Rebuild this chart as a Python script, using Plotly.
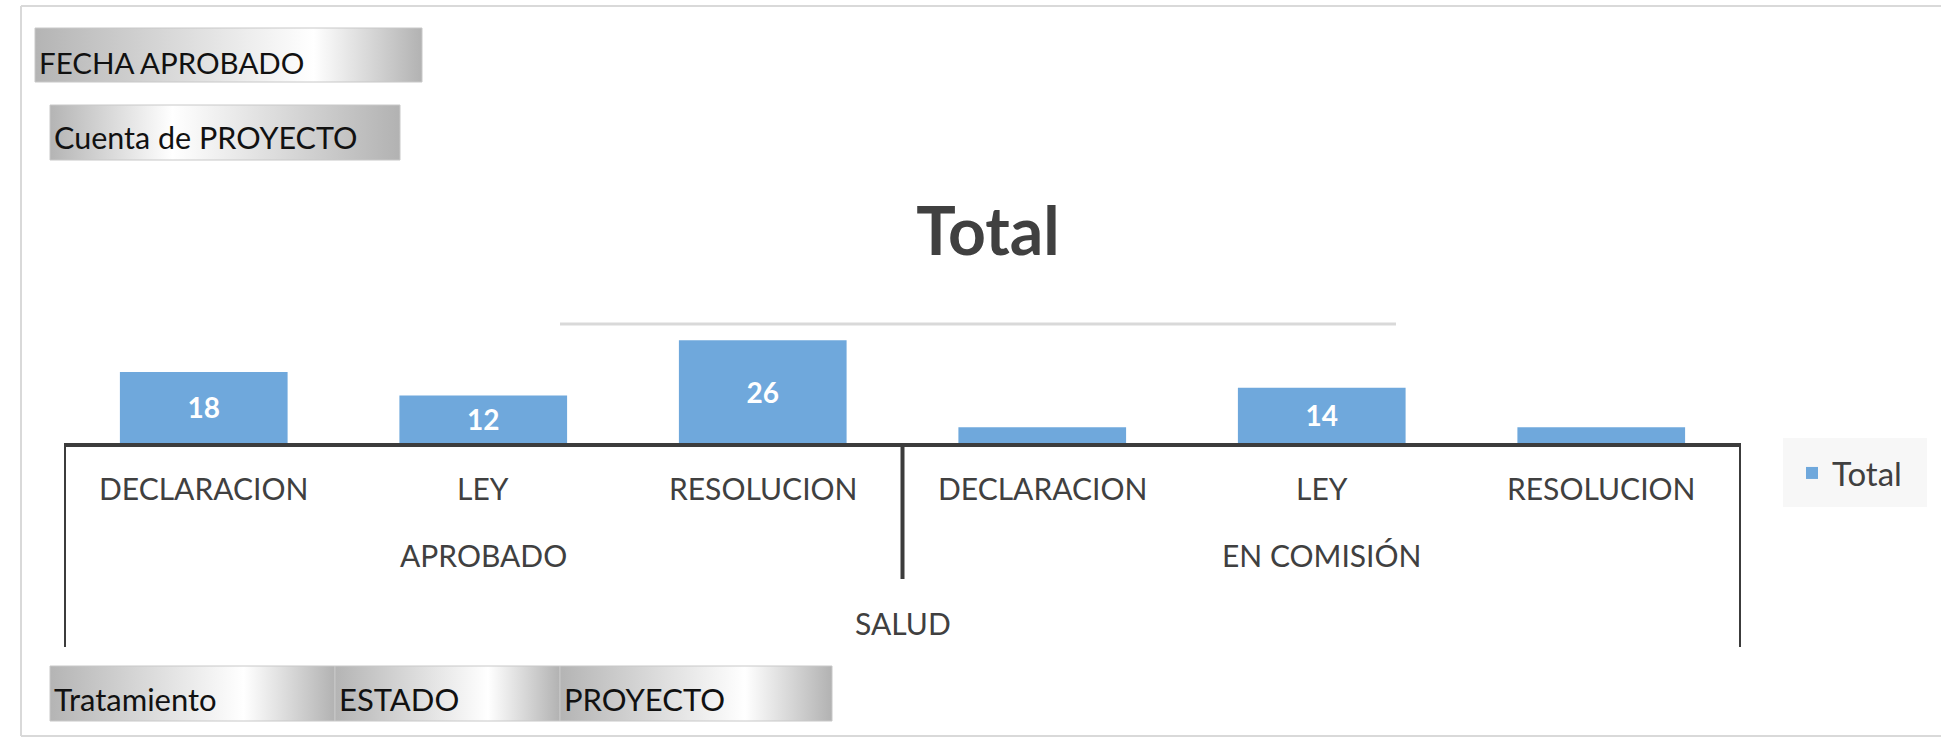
import plotly.graph_objects as go

# ---------------- data ----------------
tipos = ["DECLARACION", "LEY", "RESOLUCION", "DECLARACION", "LEY", "RESOLUCION"]
estados = ["APROBADO", "APROBADO", "APROBADO", "EN COMISIÓN", "EN COMISIÓN", "EN COMISIÓN"]
tratamiento = "SALUD"
valores = [18, 12, 26, 4, 14, 4]
serie = "Total"
titulo = "Total"
filtro_campos = ["FECHA APROBADO"]
valor_campos = ["Cuenta de PROYECTO"]
fila_campos = ["Tratamiento", "ESTADO", "PROYECTO"]

W, H = 1941, 741
FONT = "Lato"
TXT = "#404040"
AXC = "#3c3c3c"
BAR = "#6FA8DC"


def py(px):
    return 1 - px / H


def pxx(px):
    return px / W


idx = list(range(len(tipos)))
fig = go.Figure()

fig.add_trace(go.Bar(
    x=idx, y=valores, name=serie, marker=dict(color=BAR, line=dict(width=0)),
    text=[str(v) for v in valores], textposition="inside", insidetextanchor="middle",
    textangle=0,
    textfont=dict(family=FONT, size=28, color="white", weight="bold"),
    hoverinfo="skip", showlegend=True,
))


# ---- gradient field buttons on a pixel overlay axis ----
def button(x0, x1, y0, y1, peak, name):
    fig.add_trace(go.Scatter(
        x=[x0, x1, x1, x0, x0], y=[y0, y0, y1, y1, y0],
        xaxis="x2", yaxis="y2", mode="lines", fill="toself",
        line=dict(width=1, color="#c8c8c8"),
        fillgradient=dict(type="horizontal",
                          colorscale=[[0, "#b4b4b4"], [peak, "#ffffff"], [1, "#b2b2b2"]]),
        hoverinfo="skip", showlegend=False, name=name,
    ))


button(35, 422, 28, 82, 0.72, filtro_campos[0])
button(50, 400, 105, 160, 0.35, valor_campos[0])
seg_edges = [50, 335, 560, 832]
for i, nm in enumerate(fila_campos):
    button(seg_edges[i], seg_edges[i + 1], 666, 721, 0.68, nm)

annotations = []
# button texts
annotations.append(dict(text=filtro_campos[0], x=pxx(37), y=py(62), xref="paper", yref="paper",
                        xanchor="left", yanchor="middle", showarrow=False,
                        font=dict(family=FONT, size=29.5, color="#111")))
annotations.append(dict(text=valor_campos[0], x=pxx(52), y=py(137), xref="paper", yref="paper",
                        xanchor="left", yanchor="middle", showarrow=False,
                        font=dict(family=FONT, size=30.5, color="#111")))
for i, nm in enumerate(fila_campos):
    annotations.append(dict(text=nm, x=pxx(seg_edges[i] + 2), y=py(699), xref="paper", yref="paper",
                            xanchor="left", yanchor="middle", showarrow=False,
                            font=dict(family=FONT, size=31, color="#111")))

# category labels (row 1)
for i, t in enumerate(tipos):
    annotations.append(dict(text=t, x=i, y=py(488), xref="x", yref="paper",
                            xanchor="center", yanchor="middle", showarrow=False,
                            font=dict(family=FONT, size=30, color=TXT)))
# group labels (row 2)
grupos = []
for e in estados:
    if e not in grupos:
        grupos.append(e)
for g in grupos:
    pos = [i for i, e in enumerate(estados) if e == g]
    annotations.append(dict(text=g, x=sum(pos) / len(pos), y=py(555), xref="x", yref="paper",
                            xanchor="center", yanchor="middle", showarrow=False,
                            font=dict(family=FONT, size=30, color=TXT)))
# top level (row 3)
annotations.append(dict(text=tratamiento, x=(len(idx) - 1) / 2, y=py(623), xref="x", yref="paper",
                        xanchor="center", yanchor="middle", showarrow=False,
                        font=dict(family=FONT, size=30, color=TXT)))

shapes = []
# outer chart border (left, top, bottom edges; right edge is off-canvas)
for (x0, y0, x1, y1) in [(21, 6, W + 10, 6), (21, 6, 21, 736), (21, 736, W + 10, 736)]:
    shapes.append(dict(type="line", xref="paper", yref="paper", x0=pxx(x0), x1=pxx(x1),
                       y0=py(y0), y1=py(y1), line=dict(color="#d9d9d9", width=2), layer="below"))
# legend background
shapes.append(dict(type="rect", xref="paper", yref="paper", x0=pxx(1783), x1=pxx(1927),
                   y0=py(507), y1=py(438), line=dict(width=0), fillcolor="#f7f7f7", layer="below"))
# line under title
shapes.append(dict(type="line", xref="paper", yref="paper", x0=pxx(560), x1=pxx(1396),
                   y0=py(324), y1=py(324), line=dict(color="#d9d9d9", width=3)))
# category hierarchy dividers
n = len(idx)
for xv, ybot in [(-0.5, 647), (n - 0.5, 647)]:
    shapes.append(dict(type="line", xref="x", yref="paper", x0=xv, x1=xv,
                       y0=py(443), y1=py(ybot), line=dict(color=AXC, width=4)))
for k in range(1, n):
    if estados[k] != estados[k - 1]:
        shapes.append(dict(type="line", xref="x", yref="paper", x0=k - 0.5, x1=k - 0.5,
                           y0=py(443), y1=py(579), line=dict(color=AXC, width=4)))

fig.update_layout(
    width=W, height=H, margin=dict(l=0, r=0, t=0, b=0),
    paper_bgcolor="white", plot_bgcolor="rgba(0,0,0,0)",
    bargap=0.4,
    title=dict(text=titulo, x=pxx(988), y=py(232), xanchor="center", yanchor="middle",
               font=dict(family=FONT, size=66, color=TXT, weight="bold")),
    xaxis=dict(domain=[pxx(64), pxx(1741)], range=[-0.5, n - 0.5], showticklabels=False,
               showgrid=False, zeroline=False, showline=True, linecolor=AXC, linewidth=4,
               ticks="", fixedrange=True),
    yaxis=dict(domain=[py(443), py(324.5)], range=[0, 30], visible=False, showgrid=False,
               zeroline=False, fixedrange=True),
    xaxis2=dict(domain=[0, 1], range=[0, W], visible=False, anchor="y2", fixedrange=True),
    yaxis2=dict(domain=[0, 1], range=[H, 0], visible=False, anchor="x2", fixedrange=True),
    uniformtext=dict(minsize=26, mode="hide"),
    legend=dict(x=pxx(1792), y=py(473), xanchor="left", yanchor="middle",
                bgcolor="rgba(0,0,0,0)",
                font=dict(family=FONT, size=33, color=TXT), itemwidth=30,
                borderwidth=0),
    showlegend=True,
    hovermode=False,
    annotations=annotations,
    shapes=shapes,
)

fig.write_html("out.html", config={"displayModeBar": False},
               post_script="document.body.style.margin='0px';document.body.style.overflow='hidden';")
